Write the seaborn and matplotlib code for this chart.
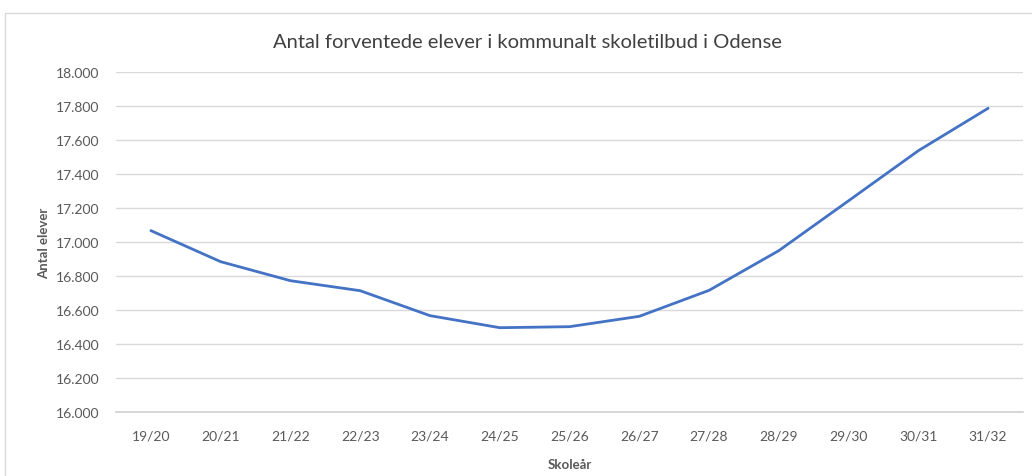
import matplotlib
matplotlib.use("Agg")
import matplotlib.pyplot as plt
import matplotlib.ticker as mticker
from matplotlib.patches import Rectangle
import seaborn as sns
import pandas as pd

years = ["19/20", "20/21", "21/22", "22/23", "23/24", "24/25", "25/26",
         "26/27", "27/28", "28/29", "29/30", "30/31", "31/32"]
students = [17067, 16884, 16772, 16713, 16566, 16495, 16501,
            16562, 16715, 16949, 17243, 17538, 17788]
yticks = [16000, 16200, 16400, 16600, 16800, 17000, 17200, 17400, 17600, 17800, 18000]

df = pd.DataFrame({"Skoleår": years, "Antal elever": students})
df["pos"] = range(len(years))

sns.set_theme(style="white")
plt.rcParams["font.family"] = ["Lato", "DejaVu Sans"]

W, H = 1032, 477
fig = plt.figure(figsize=(W / 100, H / 100), dpi=100)
fig.patch.set_facecolor("white")
fig.patches.append(Rectangle((5 / W, -0.05), 1.1, 1 - 14 / H + 0.05,
                             transform=fig.transFigure, fill=False,
                             edgecolor="#d9d9d9", linewidth=1.0))

ax = fig.add_axes([116 / W, 1 - 412.7 / H, 907 / W, (412.7 - 73.3) / H])
sns.lineplot(data=df, x="pos", y="Antal elever", ax=ax, color="#4472C4",
             linewidth=2.0, sort=False)

ax.set_xlim(-0.5, len(years) - 0.5)
ax.set_ylim(16000, 18000)
ax.set_xticks(range(len(years)))
ax.set_xticklabels(years)
ax.set_yticks(yticks)
ax.yaxis.set_major_formatter(mticker.FuncFormatter(lambda v, p: f"{int(v):,}".replace(",", ".")))
ax.grid(axis="y", color="#d9d9d9", linewidth=1.0)
ax.set_axisbelow(True)
for s in ["top", "right", "left"]:
    ax.spines[s].set_visible(False)
ax.spines["bottom"].set_color("#d0d0d0")
ax.spines["bottom"].set_linewidth(1.2)
ax.tick_params(axis="both", length=0, colors="#595959", labelsize=10)
ax.tick_params(axis="y", pad=12)
ax.tick_params(axis="x", pad=13)

ax.set_xlabel("Skoleår", fontsize=9.5, color="#595959", fontweight="bold", labelpad=12)
ax.set_ylabel("Antal elever", fontsize=9.5, color="#595959", fontweight="bold", labelpad=4)

fig.text(527 / W, 1 - 42 / H, "Antal forventede elever i kommunalt skoletilbud i Odense",
         ha="center", va="center", fontsize=14.5, color="#404040")

fig.savefig("out.png", dpi=100, facecolor="white")
